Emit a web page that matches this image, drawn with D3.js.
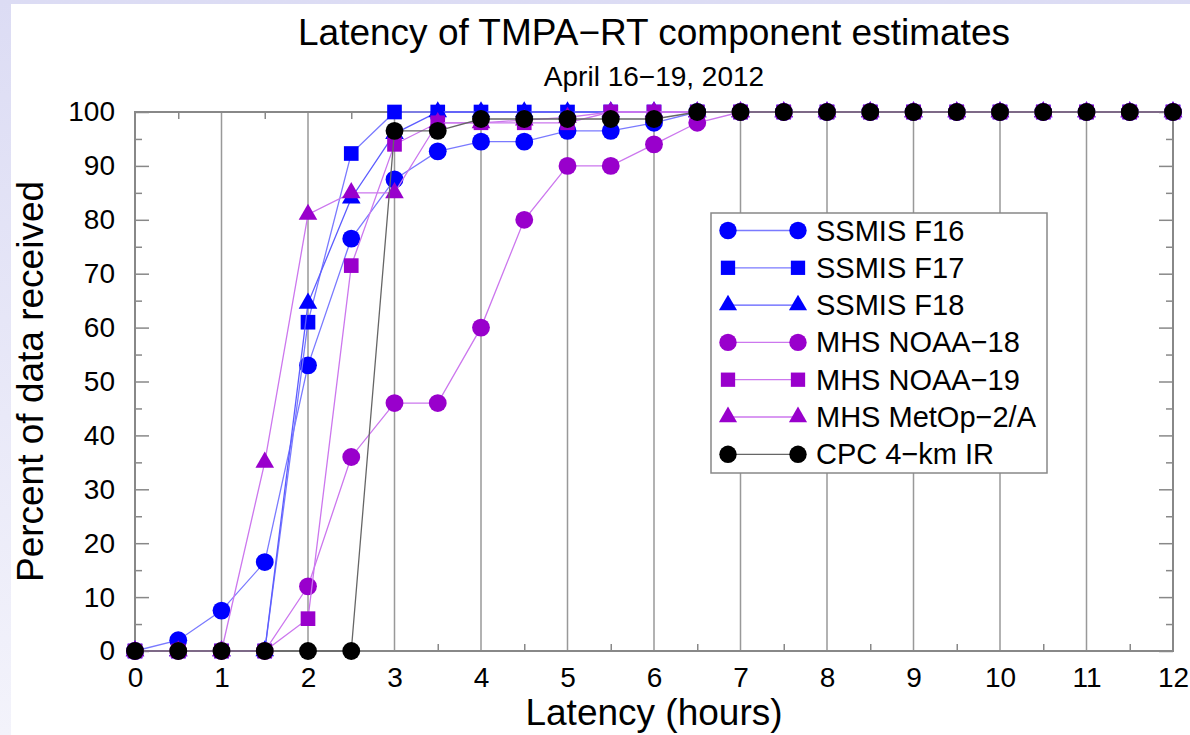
<!DOCTYPE html>
<html>
<head>
<meta charset="utf-8">
<script src="https://cdn.jsdelivr.net/npm/d3@7"></script>
<style>
  body { margin: 0; background: #fff; }
  svg { display: block; font-family: "Liberation Sans", Arial, Helvetica, sans-serif; }
  .axis text { font-size: 28px; fill: #000; }
  .axis line { stroke: #888; stroke-width: 1.5; }
  .axis path { display: none; }
</style>
</head>
<body>
<svg id="chart" width="1190" height="735"></svg>
<script>
// latency in hours
var hours = [0, 0.5, 1, 1.5, 2, 2.5, 3, 3.5, 4, 4.5, 5, 5.5, 6, 6.5, 7, 7.5, 8, 8.5, 9, 9.5, 10, 10.5, 11, 11.5, 12];

// percent of data received
var ssmisF16  = [0, 2, 7.5, 16.5, 53, 76.5, 87.5, 92.7, 94.5, 94.5, 96.5, 96.5, 98, 100, 100, 100, 100, 100, 100, 100, 100, 100, 100, 100, 100];
var ssmisF17  = [0, 0, 0, 0, 61, 92.3, 100, 100, 100, 100, 100, 100, 100, 100, 100, 100, 100, 100, 100, 100, 100, 100, 100, 100, 100];
var ssmisF18  = [0, 0, 0, 0, 64.5, 84, 96, 100, 100, 100, 100, 100, 100, 100, 100, 100, 100, 100, 100, 100, 100, 100, 100, 100, 100];
var mhsNoaa18 = [0, 0, 0, 0, 12, 36, 46, 46, 60, 80, 90, 90, 94, 98, 100, 100, 100, 100, 100, 100, 100, 100, 100, 100, 100];
var mhsNoaa19 = [0, 0, 0, 0, 6, 71.5, 94, 98, 98, 98, 98, 100, 100, 100, 100, 100, 100, 100, 100, 100, 100, 100, 100, 100, 100];
var mhsMetop  = [0, 0, 0, 35, 81, 85, 85, 98, 98, 98.5, 99, 100, 100, 100, 100, 100, 100, 100, 100, 100, 100, 100, 100, 100, 100];
var cpcIR     = [0, 0, 0, 0, 0, 0, 96.5, 96.5, 98.7, 98.7, 98.7, 98.7, 98.7, 100, 100, 100, 100, 100, 100, 100, 100, 100, 100, 100, 100];

var seriesNames = ["SSMIS F16", "SSMIS F17", "SSMIS F18", "MHS NOAA\u221218", "MHS NOAA\u221219", "MHS MetOp\u22122/A", "CPC 4\u2212km IR"];
var seriesValues = [ssmisF16, ssmisF17, ssmisF18, mhsNoaa18, mhsNoaa19, mhsMetop, cpcIR];

var xTicks = [0, 1, 2, 3, 4, 5, 6, 7, 8, 9, 10, 11, 12];
var xMinorTicks = [0.5, 1.5, 2.5, 3.5, 4.5, 5.5, 6.5, 7.5, 8.5, 9.5, 10.5, 11.5];
var yTicks = [0, 10, 20, 30, 40, 50, 60, 70, 80, 90, 100];
var yMinorTicks = [5, 15, 25, 35, 45, 55, 65, 75, 85, 95];

// look of each series
var markerColor = ["#0000ff", "#0000ff", "#0000ff", "#9900cc", "#9900cc", "#9900cc", "#000000"];
var lineColor = ["#7a7aff", "#7a7aff", "#5c5cff", "#cc77ee", "#cc77ee", "#cc77ee", "#666666"];
var markerShape = [d3.symbolCircle, d3.symbolSquare, d3.symbolTriangle, d3.symbolCircle, d3.symbolSquare, d3.symbolTriangle, d3.symbolCircle];
var markerArea = { circle: 250, square: 215, triangle: 150 };

function areaFor(shape) {
    if (shape === d3.symbolSquare) return markerArea.square;
    if (shape === d3.symbolTriangle) return markerArea.triangle;
    return markerArea.circle;
}

var svg = d3.select("#chart");

// page background: lavender strip on the left/top, white sheet
var defs = svg.append("defs");
var grad = defs.append("linearGradient").attr("id", "bg").attr("x1", 0).attr("y1", 0).attr("x2", 0).attr("y2", 1);
grad.append("stop").attr("offset", "0%").attr("stop-color", "#dcdcf4");
grad.append("stop").attr("offset", "100%").attr("stop-color", "#f3f3fb");
svg.append("rect").attr("width", 1190).attr("height", 735).attr("fill", "url(#bg)");
svg.append("rect").attr("x", 11).attr("y", 4).attr("width", 1179).attr("height", 731).attr("fill", "#fff");

var plotL = 135, plotR = 1173, plotT = 112, plotB = 651;

var x = d3.scaleLinear().domain([0, 12]).range([plotL, plotR]);
var y = d3.scaleLinear().domain([0, 100]).range([plotB, plotT]);

// vertical grid lines
svg.append("g")
    .selectAll("line")
    .data(xTicks.slice(1, -1))
    .enter().append("line")
    .attr("x1", function(d){ return x(d); })
    .attr("x2", function(d){ return x(d); })
    .attr("y1", plotT)
    .attr("y2", plotB)
    .attr("stroke", "#999")
    .attr("stroke-width", 1.5);

// axes (ticks point inwards)
svg.append("g").attr("class", "axis")
    .attr("transform", "translate(0," + plotB + ")")
    .call(d3.axisBottom(x).tickValues(xTicks).tickSize(0).tickPadding(16).tickFormat(d3.format("d")));
svg.append("g").attr("class", "axis")
    .attr("transform", "translate(0," + plotB + ")")
    .call(d3.axisBottom(x).tickValues(xMinorTicks).tickSize(-7).tickFormat(""));
svg.append("g").attr("class", "axis")
    .attr("transform", "translate(0," + plotT + ")")
    .call(d3.axisTop(x).tickValues(xMinorTicks).tickSize(-7).tickFormat(""));

svg.append("g").attr("class", "axis")
    .attr("transform", "translate(" + plotL + ",0)")
    .call(d3.axisLeft(y).tickValues(yTicks).tickSize(-14).tickPadding(20));
svg.append("g").attr("class", "axis")
    .attr("transform", "translate(" + plotL + ",0)")
    .call(d3.axisLeft(y).tickValues(yMinorTicks).tickSize(-7).tickFormat(""));
svg.append("g").attr("class", "axis")
    .attr("transform", "translate(" + plotR + ",0)")
    .call(d3.axisRight(y).tickValues(yTicks).tickSize(-14).tickFormat(""));
svg.append("g").attr("class", "axis")
    .attr("transform", "translate(" + plotR + ",0)")
    .call(d3.axisRight(y).tickValues(yMinorTicks).tickSize(-7).tickFormat(""));

// frame
svg.append("rect")
    .attr("x", plotL).attr("y", plotT)
    .attr("width", plotR - plotL).attr("height", plotB - plotT)
    .attr("fill", "none").attr("stroke", "#888").attr("stroke-width", 2);

// series
var line = d3.line()
    .x(function(d){ return x(d[0]); })
    .y(function(d){ return y(d[1]); });

seriesValues.forEach(function(vals, i){
    var pts = hours.map(function(h, j){ return [h, vals[j]]; });
    var g = svg.append("g");
    g.append("path")
        .datum(pts)
        .attr("d", line)
        .attr("fill", "none")
        .attr("stroke", lineColor[i])
        .attr("stroke-width", 1.3);
    g.selectAll("path.pt")
        .data(pts)
        .enter().append("path")
        .attr("class", "pt")
        .attr("transform", function(d){ return "translate(" + x(d[0]) + "," + y(d[1]) + ")"; })
        .attr("d", d3.symbol().type(markerShape[i]).size(areaFor(markerShape[i])))
        .attr("fill", markerColor[i]);
});

// legend
var lg = svg.append("g");
lg.append("rect")
    .attr("x", 711).attr("y", 213).attr("width", 336).attr("height", 260)
    .attr("fill", "#fff").attr("stroke", "#888").attr("stroke-width", 1.5);
seriesNames.forEach(function(name, i){
    var base = 240.5 + i * 37.3;
    var cy = base - 10;
    lg.append("line")
        .attr("x1", 728).attr("x2", 798).attr("y1", cy).attr("y2", cy)
        .attr("stroke", lineColor[i]).attr("stroke-width", 1.3);
    [728, 798].forEach(function(mx){
        lg.append("path")
            .attr("transform", "translate(" + mx + "," + cy + ")")
            .attr("d", d3.symbol().type(markerShape[i]).size(areaFor(markerShape[i]) * 0.95))
            .attr("fill", markerColor[i]);
    });
    lg.append("text")
        .attr("x", 816).attr("y", base)
        .attr("font-size", 29)
        .text(name);
});

// titles
svg.append("text")
    .attr("x", (plotL + plotR) / 2).attr("y", 45)
    .attr("text-anchor", "middle").attr("font-size", 37)
    .text("Latency of TMPA\u2212RT component estimates");
svg.append("text")
    .attr("x", (plotL + plotR) / 2).attr("y", 86)
    .attr("text-anchor", "middle").attr("font-size", 28)
    .text("April 16\u221219, 2012");
svg.append("text")
    .attr("x", (plotL + plotR) / 2).attr("y", 725)
    .attr("text-anchor", "middle").attr("font-size", 37)
    .text("Latency (hours)");
svg.append("text")
    .attr("transform", "translate(43," + (plotT + plotB) / 2 + ") rotate(-90)")
    .attr("text-anchor", "middle").attr("font-size", 37)
    .text("Percent of data received");
</script>
</body>
</html>
